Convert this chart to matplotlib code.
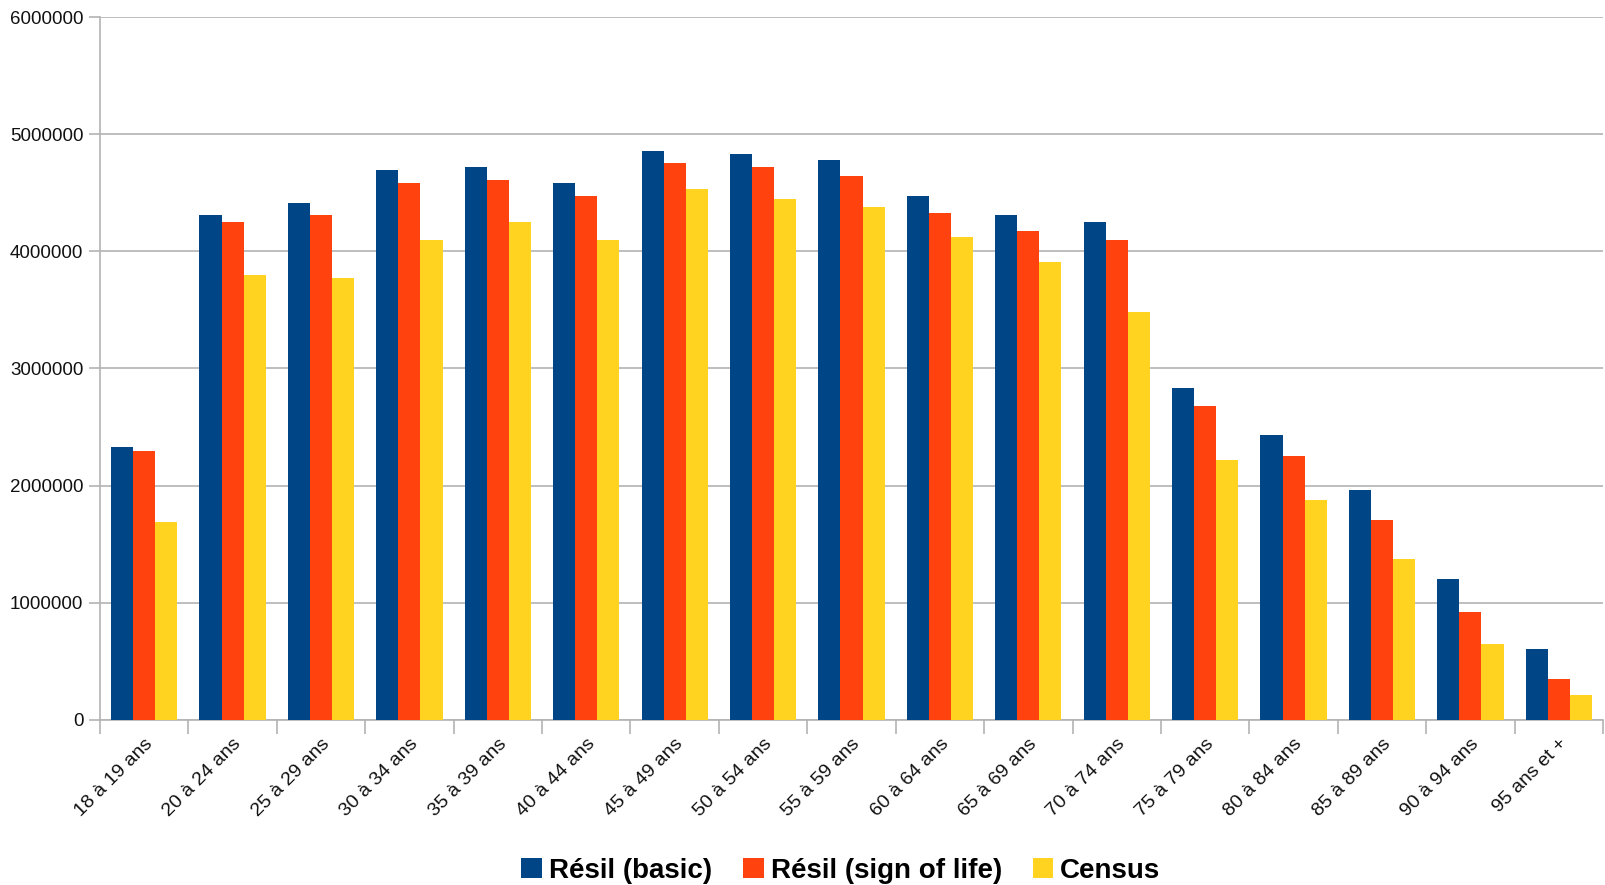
import matplotlib
matplotlib.use("Agg")
import matplotlib.pyplot as plt
import numpy as np
from matplotlib.patches import Patch

plt.rcParams['font.family'] = ['Liberation Sans', 'DejaVu Sans']

categories = ["18 à 19 ans", "20 à 24 ans", "25 à 29 ans", "30 à 34 ans", "35 à 39 ans",
              "40 à 44 ans", "45 à 49 ans", "50 à 54 ans", "55 à 59 ans", "60 à 64 ans",
              "65 à 69 ans", "70 à 74 ans", "75 à 79 ans", "80 à 84 ans", "85 à 89 ans",
              "90 à 94 ans", "95 ans et +"]
resil_basic = [2330000, 4310000, 4410000, 4690000, 4720000, 4580000, 4860000, 4830000,
               4780000, 4470000, 4310000, 4250000, 2830000, 2430000, 1960000, 1200000, 603000]
resil_sign = [2300000, 4250000, 4310000, 4580000, 4610000, 4470000, 4750000, 4720000,
              4640000, 4330000, 4170000, 4100000, 2680000, 2250000, 1710000, 925000, 353000]
census = [1690000, 3800000, 3770000, 4100000, 4250000, 4100000, 4530000, 4450000,
          4380000, 4120000, 3910000, 3480000, 2220000, 1880000, 1370000, 652000, 210000]
series_names = ["Résil (basic)", "Résil (sign of life)", "Census"]
colors = ["#004586", "#ff420e", "#ffd320"]
yticks = [0, 1000000, 2000000, 3000000, 4000000, 5000000, 6000000]

fig = plt.figure(figsize=(16.05, 8.85), dpi=100)
ax = fig.add_axes([100/1605, 1-720/885, 1503/1605, 703/885])

x = np.arange(len(categories))
w = 0.25
for i, (vals, c) in enumerate(zip([resil_basic, resil_sign, census], colors)):
    ax.bar(x + (i - 1) * w, vals, width=w, color=c, zorder=3)

ax.set_xlim(-0.5, len(categories) - 0.5)
ax.set_ylim(0, 6000000)
ax.set_yticks(yticks)
ax.set_yticklabels([str(v) for v in yticks], fontsize=13.5, color="#111111")
ax.yaxis.grid(True, color="#b3b3b3", linewidth=1.2, zorder=0)
ax.tick_params(axis='y', length=8, color="#b3b3b3", width=1.2, pad=4)

ax.set_xticks(np.arange(len(categories) + 1) - 0.5, minor=False)
ax.set_xticklabels([])
ax.set_xticks(x, minor=True)
ax.set_xticklabels(categories, minor=True, rotation=45, ha='right', rotation_mode='anchor',
                   fontsize=14, color="#111111")
ax.tick_params(axis='x', which='major', length=10, color="#b3b3b3", width=1.2)
ax.tick_params(axis='x', which='minor', length=0, pad=11)

for s in ['top', 'right']:
    ax.spines[s].set_visible(False)
for s in ['left', 'bottom']:
    ax.spines[s].set_color("#b3b3b3")
    ax.spines[s].set_linewidth(1.2)

handles = [Patch(facecolor=c, label=n) for c, n in zip(colors, series_names)]
fig.legend(handles=handles, loc='center', bbox_to_anchor=(0.524, 1-871/885), ncol=3,
           frameon=False, prop={'size': 20, 'weight': 'bold'}, handlelength=0.75,
           handleheight=0.75, handletextpad=0.25, columnspacing=1.1)

fig.savefig("out.png", dpi=100)
